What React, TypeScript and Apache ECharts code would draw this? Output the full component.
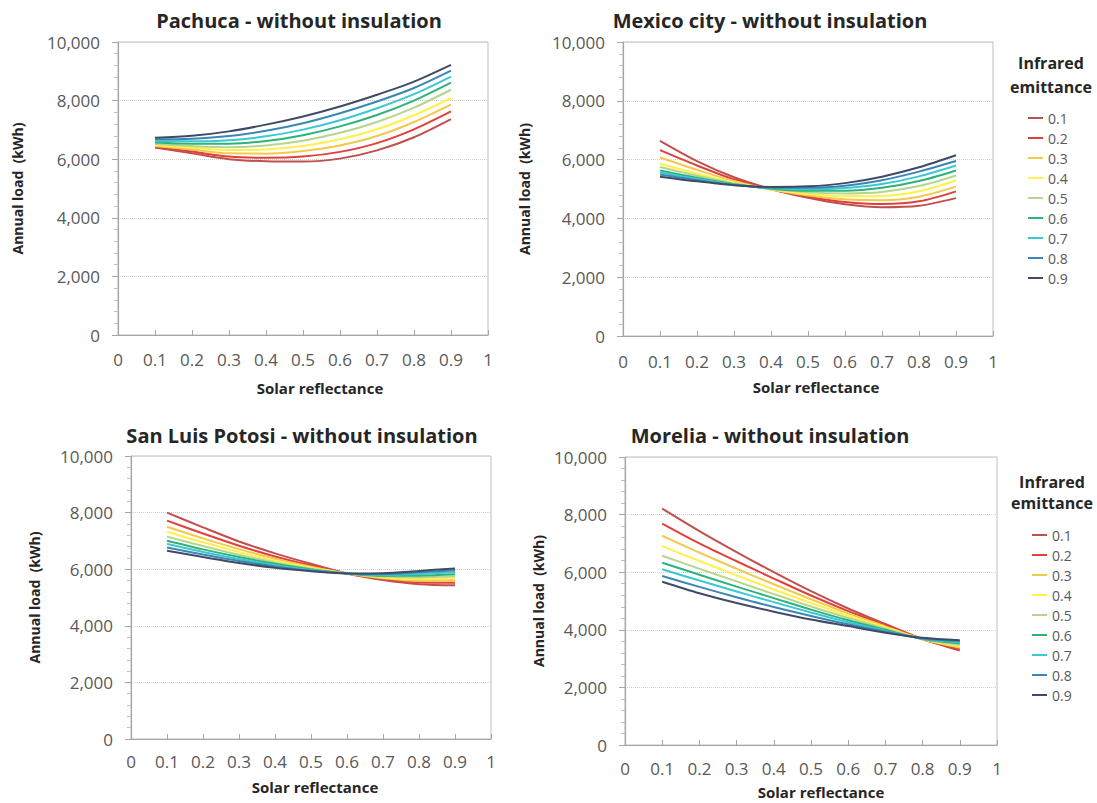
import { useEffect, useRef } from 'react';
import * as echarts from 'echarts';

// solar reflectance values on the x axis
const reflectance = [0.1, 0.2, 0.3, 0.4, 0.5, 0.6, 0.7, 0.8, 0.9];

// infrared emittance, one line per value
const emittance = ['0.1', '0.2', '0.3', '0.4', '0.5', '0.6', '0.7', '0.8', '0.9'];
const lineColors = ['#C0504D', '#E0403C', '#F2C94C', '#FFF04A', '#B5D68C', '#2DB37A', '#3CC8D2', '#3A87B5', '#3F4B66'];

// annual load (kWh), rows = emittance 0.1 .. 0.9
const pachuca = [
  [6400, 6200, 6000, 5930, 5920, 6020, 6300, 6750, 7370],
  [6420, 6260, 6090, 6050, 6090, 6250, 6550, 7020, 7630],
  [6450, 6330, 6200, 6190, 6280, 6470, 6790, 7270, 7860],
  [6480, 6390, 6310, 6330, 6450, 6680, 7020, 7500, 8080],
  [6520, 6450, 6410, 6470, 6630, 6900, 7270, 7760, 8370],
  [6570, 6530, 6530, 6620, 6820, 7120, 7510, 8000, 8610],
  [6620, 6610, 6650, 6780, 7010, 7330, 7740, 8220, 8820],
  [6680, 6700, 6790, 6970, 7230, 7570, 7970, 8430, 9020],
  [6730, 6800, 6950, 7180, 7460, 7800, 8200, 8650, 9220],
];

const mexicoCity = [
  [6640, 5950, 5400, 5000, 4700, 4480, 4380, 4430, 4690],
  [6320, 5800, 5330, 4990, 4740, 4560, 4490, 4580, 4920],
  [6070, 5650, 5270, 4980, 4780, 4650, 4620, 4740, 5080],
  [5860, 5520, 5220, 4980, 4830, 4750, 4760, 4920, 5290],
  [5745, 5450, 5190, 5000, 4890, 4850, 4900, 5100, 5460],
  [5630, 5380, 5160, 5010, 4940, 4940, 5040, 5270, 5630],
  [5570, 5340, 5150, 5030, 4990, 5030, 5170, 5430, 5800],
  [5490, 5300, 5140, 5050, 5040, 5110, 5300, 5590, 5950],
  [5420, 5260, 5130, 5070, 5090, 5200, 5420, 5740, 6150],
];

const sanLuisPotosi = [
  [8000, 7480, 6980, 6560, 6190, 5850, 5620, 5470, 5430],
  [7715, 7260, 6830, 6450, 6130, 5850, 5650, 5530, 5520],
  [7500, 7090, 6710, 6370, 6090, 5850, 5680, 5590, 5610],
  [7325, 6950, 6610, 6300, 6050, 5850, 5710, 5650, 5680],
  [7150, 6820, 6510, 6240, 6020, 5850, 5740, 5710, 5750],
  [7005, 6700, 6430, 6190, 5990, 5850, 5770, 5770, 5820],
  [6890, 6610, 6360, 6140, 5970, 5850, 5800, 5830, 5890],
  [6770, 6520, 6290, 6100, 5950, 5850, 5830, 5890, 5960],
  [6650, 6430, 6220, 6050, 5930, 5850, 5860, 5940, 6025],
];

const morelia = [
  [8210, 7430, 6700, 6000, 5340, 4740, 4200, 3680, 3280],
  [7690, 7000, 6380, 5780, 5190, 4650, 4160, 3670, 3330],
  [7265, 6680, 6120, 5580, 5060, 4570, 4120, 3670, 3380],
  [6905, 6390, 5890, 5400, 4930, 4490, 4080, 3670, 3430],
  [6570, 6120, 5680, 5240, 4810, 4410, 4040, 3670, 3480],
  [6330, 5910, 5500, 5100, 4700, 4330, 4000, 3680, 3530],
  [6100, 5710, 5330, 4960, 4600, 4260, 3960, 3690, 3570],
  [5870, 5490, 5130, 4790, 4480, 4190, 3930, 3700, 3610],
  [5670, 5270, 4930, 4630, 4360, 4130, 3900, 3720, 3640],
];

const cities = [pachuca, mexicoCity, sanLuisPotosi, morelia];
const chartTitles = [
  'Pachuca - without insulation',
  'Mexico city - without insulation',
  'San Luis Potosi - without insulation',
  'Morelia - without insulation',
];

const FONT = '"Open Sans", Calibri, sans-serif';
const LABEL = '#595959';
const DARK = '#262626';

// plot boxes, measured in pixels
const grids = [
  { left: 118, top: 42, width: 370, height: 293 },
  { left: 623, top: 42, width: 370, height: 294 },
  { left: 131, top: 456, width: 360, height: 283 },
  { left: 625, top: 457, width: 372, height: 288 },
];
const titlePos = [
  { x: 299, y: 10 },
  { x: 770, y: 10 },
  { x: 302, y: 425 },
  { x: 770, y: 425 },
];
// x-axis: label margin, name gap, name shift to the right
const xAxisPos = [
  { margin: 16, gap: 45, shift: 17 },
  { margin: 17, gap: 43, shift: 8 },
  { margin: 14, gap: 40, shift: 4 },
  { margin: 15, gap: 39, shift: 10 },
];
const yNameGap = [94, 92, 90, 80];

function App() {
  const chartRef = useRef<HTMLDivElement>(null);

  useEffect(() => {
    if (!chartRef.current) return;
    const chart = echarts.init(chartRef.current, undefined, { renderer: 'svg' });

    const xAxes = grids.map((_, i) => ({
      type: 'value',
      gridIndex: i,
      min: 0,
      max: 1,
      interval: 0.1,
      name: 'Solar reflectance',
      nameLocation: 'middle',
      nameGap: xAxisPos[i].gap,
      nameTextStyle: {
        fontFamily: FONT,
        fontWeight: 'bold',
        fontSize: 15,
        color: DARK,
        padding: [0, 0, 0, xAxisPos[i].shift * 2],
      },
      axisLine: { show: true, lineStyle: { color: '#a6a6a6', width: 1.2 } },
      axisTick: { show: true, inside: true, length: 5, lineStyle: { color: '#a6a6a6' } },
      axisLabel: {
        fontFamily: FONT,
        fontSize: 17,
        color: LABEL,
        margin: xAxisPos[i].margin,
        formatter: (v: number) => String(Math.round(v * 10) / 10),
      },
      splitLine: { show: false },
    }));

    const yAxes = grids.map((_, i) => ({
      type: 'value',
      gridIndex: i,
      min: 0,
      max: 10000,
      interval: 2000,
      name: 'Annual load  (kWh)',
      nameLocation: 'middle',
      nameGap: yNameGap[i],
      nameTextStyle: { fontFamily: FONT, fontWeight: 'bold', fontSize: 14, color: DARK },
      axisLine: { show: true, lineStyle: { color: '#a6a6a6', width: 1.2 } },
      axisTick: { show: true, length: 6, lineStyle: { color: '#a6a6a6' } },
      minorTick: { show: true, splitNumber: 5, length: 4, lineStyle: { color: '#bfbfbf' } },
      axisLabel: {
        fontFamily: FONT,
        fontSize: 17,
        color: LABEL,
        margin: 18,
        formatter: (v: number) => v.toLocaleString('en-US'),
      },
      splitLine: { show: true, lineStyle: { color: '#d0d0d0', type: 'dotted', width: 1 } },
    }));

    const series: any[] = [];
    cities.forEach((rows, c) => {
      rows.forEach((vals, e) => {
        series.push({
          type: 'line',
          name: emittance[e],
          xAxisIndex: c,
          yAxisIndex: c,
          data: reflectance.map((x, j) => [x, vals[j]]),
          symbol: 'none',
          showSymbol: false,
          smooth: 0.3,
          lineStyle: { width: 2, color: lineColors[e] },
          itemStyle: { color: lineColors[e] },
        });
      });
    });

    const titles: any[] = chartTitles.map((t, i) => ({
      text: t,
      left: titlePos[i].x,
      top: titlePos[i].y,
      textAlign: 'center',
      padding: 0,
      textStyle: { fontFamily: FONT, fontWeight: 'bold', fontSize: 20, color: DARK },
    }));
    titles.push(
      {
        text: 'Infrared\nemittance',
        left: 1051,
        top: 51,
        textAlign: 'center',
        padding: 0,
        textStyle: { fontFamily: FONT, fontWeight: 'bold', fontSize: 16, lineHeight: 24, color: DARK },
      },
      {
        text: 'Infrared\nemittance',
        left: 1052,
        top: 471,
        textAlign: 'center',
        padding: 0,
        textStyle: { fontFamily: FONT, fontWeight: 'bold', fontSize: 16, lineHeight: 21, color: DARK },
      },
    );

    const legendBase = {
      orient: 'vertical',
      data: emittance,
      icon: 'rect',
      itemWidth: 15,
      itemHeight: 2,
      itemGap: 6,
      padding: 0,
      selectedMode: false,
      textStyle: { fontFamily: FONT, fontSize: 14, lineHeight: 14, color: LABEL },
    };

    chart.setOption({
      animation: false,
      backgroundColor: '#ffffff',
      title: titles,
      legend: [
        { ...legendBase, left: 1028, top: 111 },
        { ...legendBase, left: 1032, top: 528 },
      ],
      grid: grids.map((g) => ({ ...g, show: true, borderColor: '#bfbfbf', borderWidth: 1, backgroundColor: 'transparent' })),
      xAxis: xAxes,
      yAxis: yAxes,
      series,
    });

    return () => {
      chart.dispose();
    };
  }, []);

  return (
    <div
      ref={chartRef}
      style={{ position: 'fixed', left: 0, top: 0, width: 1097, height: 803, background: '#fff' }}
    />
  );
}

export default App;
